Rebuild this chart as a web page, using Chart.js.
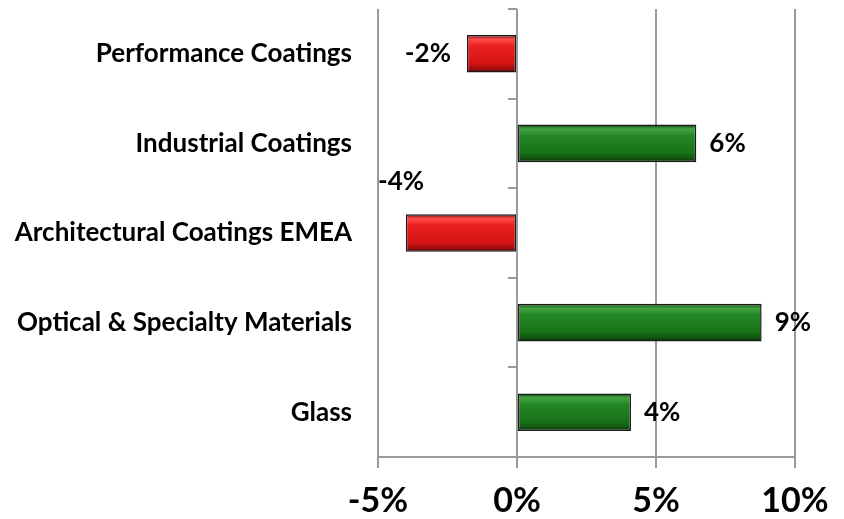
<!DOCTYPE html>
<html>
<head>
<meta charset="utf-8">
<script src="https://cdn.jsdelivr.net/npm/chart.js@4"></script>
<style>
    html, body { margin: 0; padding: 0; background: #fff; }
</style>
</head>
<body>
<canvas id="chart-segment-growth" width="844" height="519"></canvas>
<script>
const segments = ['Performance Coatings', 'Industrial Coatings', 'Architectural Coatings EMEA', 'Optical & Specialty Materials', 'Glass'];
const growth = [-1.8, 6.45, -4.0, 8.8, 4.1];
const xTicks = [-5, 0, 5, 10];

const gridGray = '#9a9a9a';
const labelFont = { family: 'Lato', weight: 'bold', size: 26 };

function bevelFill(ctx) {
    const chart = ctx.chart;
    const value = ctx.raw;
    const base = value < 0 ? '#e01515' : '#1b7a1b';
    if (!chart.chartArea || !chart.scales.y) {
        return base;
    }
    const y = chart.scales.y.getPixelForValue(ctx.dataIndex);
    const half = 19;
    const g = chart.ctx.createLinearGradient(0, y - half, 0, y + half);
    if (value < 0) {
        g.addColorStop(0, '#6a0a0a');
        g.addColorStop(0.12, '#ff4a4a');
        g.addColorStop(0.3, '#ec2020');
        g.addColorStop(0.75, '#d41414');
        g.addColorStop(0.9, '#a00c0c');
        g.addColorStop(1, '#4a0505');
    } else {
        g.addColorStop(0, '#0c3d0c');
        g.addColorStop(0.12, '#43a343');
        g.addColorStop(0.3, '#238623');
        g.addColorStop(0.75, '#187218');
        g.addColorStop(0.9, '#105210');
        g.addColorStop(1, '#062806');
    }
    return g;
}

// small tick marks on the zero line, between categories
const zeroTicks = {
    id: 'zeroTicks',
    afterDatasetsDraw(chart) {
        const ctx = chart.ctx;
        const area = chart.chartArea;
        const x0 = Math.round(chart.scales.x.getPixelForValue(0));
        const step = (area.bottom - area.top) / segments.length;
        ctx.save();
        ctx.strokeStyle = gridGray;
        ctx.lineWidth = 2;
        ctx.beginPath();
        for (let i = 0; i <= segments.length; i++) {
            const y = Math.round(area.top + i * step);
            ctx.moveTo(x0 - 9, y);
            ctx.lineTo(x0, y);
        }
        ctx.stroke();
        ctx.restore();
    }
};

const valueLabels = {
    id: 'valueLabels',
    afterDatasetsDraw(chart) {
        const ctx = chart.ctx;
        const area = chart.chartArea;
        const meta = chart.getDatasetMeta(0);
        ctx.save();
        ctx.font = 'bold 26px Lato';
        ctx.fillStyle = '#000';
        ctx.textBaseline = 'middle';
        meta.data.forEach((bar, i) => {
            const v = growth[i];
            const text = Math.round(v) + '%';
            if (v >= 0) {
                ctx.textAlign = 'left';
                ctx.fillText(text, bar.x + 13, bar.y);
            } else {
                const w = ctx.measureText(text).width;
                if (bar.x - 16 - w < area.left) {
                    ctx.textAlign = 'left';
                    ctx.fillText(text, area.left, bar.y - 51);
                } else {
                    ctx.textAlign = 'right';
                    ctx.fillText(text, bar.x - 16, bar.y);
                }
            }
        });
        ctx.restore();
    }
};

new Chart(document.getElementById('chart-segment-growth'), {
    type: 'bar',
    data: {
        labels: segments,
        datasets: [{
            data: growth,
            backgroundColor: bevelFill,
            borderColor: '#1a1a1a',
            borderWidth: 1.5,
            borderSkipped: false,
            categoryPercentage: 1,
            barPercentage: 0.42,
        }]
    },
    options: {
        indexAxis: 'y',
        responsive: false,
        animation: false,
        layout: { padding: { top: 9, right: 49, bottom: 0, left: 0 } },
        plugins: {
            legend: { display: false },
            tooltip: { enabled: false },
        },
        scales: {
            x: {
                min: -5,
                max: 10,
                afterBuildTicks: scale => {
                    scale.ticks = xTicks.map(v => ({ value: v }));
                },
                afterFit: scale => { scale.height = 62; },
                grid: { color: gridGray, lineWidth: 2, tickLength: 11 },
                border: { display: true, color: gridGray, width: 2 },
                ticks: {
                    color: '#000',
                    padding: 13,
                    font: { family: 'Lato', weight: 'bold', size: 34 },
                    callback: v => v + '%',
                },
            },
            y: {
                afterFit: scale => {
                    scale.width = 378;
                    scale.paddingTop = 0;
                    scale.paddingBottom = 0;
                },
                grid: { display: false, drawTicks: false },
                border: { display: false },
                ticks: {
                    color: '#000',
                    padding: 26,
                    font: labelFont,
                },
            },
        },
    },
    plugins: [zeroTicks, valueLabels],
});
</script>
</body>
</html>
